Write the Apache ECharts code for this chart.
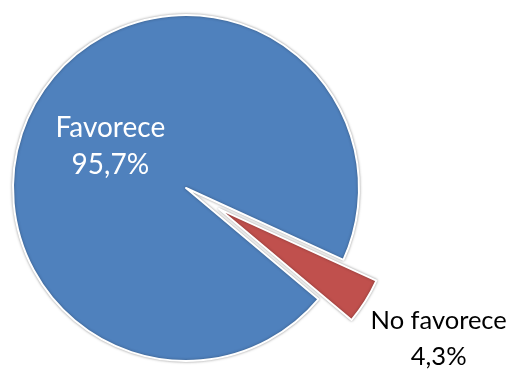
<!DOCTYPE html>
<html>
<head>
<meta charset="utf-8">
<script src="https://cdn.jsdelivr.net/npm/echarts@6/dist/echarts.min.js"></script>
<style>
  html, body { margin: 0; padding: 0; background: #fff; }
  #chart { width: 508px; height: 369px; }
</style>
</head>
<body>
<div id="chart"></div>
<script>
// datos del gráfico
const categories = ['Favorece', 'No favorece'];
const values = [95.7, 4.3];
const valueLabels = ['95,7%', '4,3%'];
const colors = ['#4F81BD', '#C0504D'];

const chart = echarts.init(document.getElementById('chart'));

const data = categories.map((name, i) => ({
    name,
    value: values[i],
    selected: i === 1,
    itemStyle: { color: colors[i] },
    label: i === 0
        ? { color: '#fff' }
        : { color: '#000', fontSize: 25.5, lineHeight: 36 },
}));

const option = {
    animation: false,
    series: [{
        type: 'pie',
        center: [186, 188],
        radius: 173,
        startAngle: -40,
        clockwise: true,
        selectedMode: 'single',
        selectedOffset: 39,
        data,
        itemStyle: {
            borderColor: '#fff',
            borderWidth: 2,
            shadowBlur: 3,
            shadowColor: 'rgba(0,0,0,0.35)',
        },
        select: { itemStyle: { borderColor: '#fff', borderWidth: 2 } },
        emphasis: { disabled: true },
        label: {
            show: true,
            position: 'inside',
            fontFamily: 'Lato, "Open Sans", sans-serif',
            fontSize: 28,
            lineHeight: 37,
            align: 'center',
            overflow: 'none',
            formatter: p => p.name + '\n' + valueLabels[p.dataIndex],
        },
        labelLine: { show: false },
        // "No favorece" va fuera de la porción, abajo a la derecha
        labelLayout: p => p.dataIndex === 1 ? { dx: 144, dy: 82 } : { dy: 6 },
    }],
};

chart.setOption(option);
</script>
</body>
</html>
